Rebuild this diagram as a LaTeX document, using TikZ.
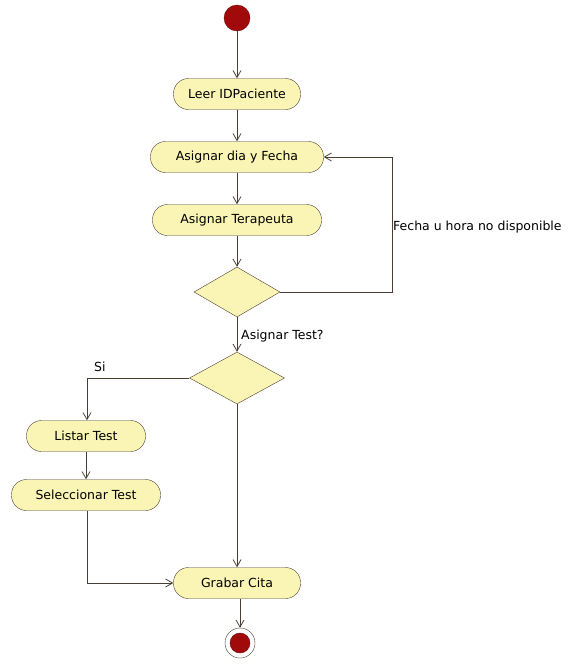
\documentclass[tikz,border=0pt]{standalone}
\usepackage{fontspec}
\setmainfont{DejaVu Sans}
\usetikzlibrary{arrows.meta,shapes.geometric}
\definecolor{actfill}{HTML}{FAF5B4}
\definecolor{actline}{HTML}{4A3E32}
\definecolor{dotred}{HTML}{A00A0A}
\begin{document}
\begin{tikzpicture}[x=1pt,y=-1pt,
  act/.style={draw=actline,fill=actfill,rounded corners=15pt,inner sep=0pt,minimum height=31pt,font=\fontsize{12.5}{14}\selectfont},
  flow/.style={draw=actline,line width=0.8pt,-{Straight Barb[length=7pt,width=8pt]}},
  lbl/.style={font=\fontsize{12.5}{14}\selectfont,inner sep=0pt}]
\useasboundingbox (0,0) rectangle (569,664);
\node[circle,fill=dotred,draw=dotred!70!black,minimum size=26pt,inner sep=0pt] (start) at (237,18) {};
\node[act,minimum width=127pt] (leer) at (237,94) {Leer IDPaciente};
\node[act,minimum width=173pt] (dia) at (237,157) {Asignar dia y Fecha};
\node[act,minimum width=169pt] (tera) at (237,220) {Asignar Terapeuta};
\node[draw=actline,fill=actfill,diamond,inner sep=0pt,minimum width=86pt,minimum height=50pt] (d1) at (237,292) {};
\node[draw=actline,fill=actfill,diamond,inner sep=0pt,minimum width=95pt,minimum height=52pt] (d2) at (237,378) {};
\node[act,minimum width=119pt] (listar) at (86,436) {Listar Test};
\node[act,minimum width=149pt] (sel) at (86,495) {Seleccionar Test};
\node[act,minimum width=127pt] (grabar) at (237,583) {Grabar Cita};
\node[circle,draw=actline,fill=white,minimum size=30pt,inner sep=0pt] (end) at (240,643) {};
\node[circle,fill=dotred,draw=dotred!70!black,minimum size=20pt,inner sep=0pt] at (end) {};
\coordinate (loopc) at (392,292);
\coordinate (loopt) at (392,157);
\coordinate (sic) at (87,378);
\coordinate (selc) at (87,583);
\draw[flow] (start) -- (leer);
\draw[flow] (leer) -- (dia);
\draw[flow] (dia) -- (tera);
\draw[flow] (tera) -- (d1);
\draw[flow] (d1.east) -- (loopc) -- (loopt) -- (dia.east);
\draw[flow] (d1) -- (d2);
\draw[flow] (d2.west) -- (sic) -- (listar.north -| sic);
\draw[flow] (listar) -- (sel);
\draw[flow] (sel.south -| selc) -- (selc) -- (grabar.west);
\draw[flow] (d2.south) -- (d2.south |- grabar.north);
\draw[flow] (grabar.south -| end) -- (end);
\node[lbl,anchor=west] (l1) at (393,227) {Fecha u hora no disponible};
\node[lbl,anchor=west] (l2) at (241,336) {Asignar Test?};
\node[lbl,anchor=west] (l3) at (94,367) {Si};
\end{tikzpicture}
\end{document}
